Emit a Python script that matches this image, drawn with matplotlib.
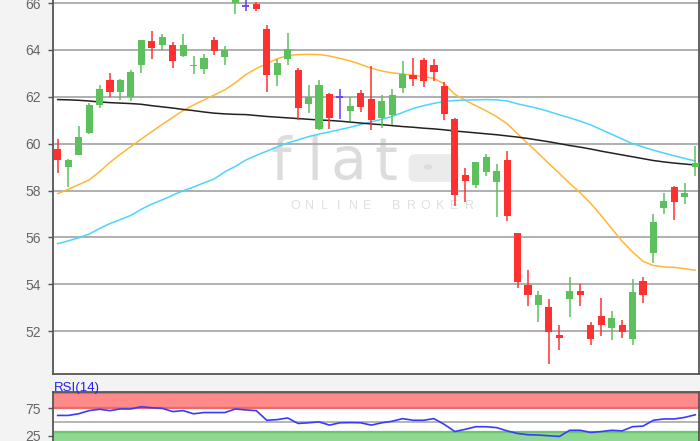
import matplotlib
matplotlib.use("Agg")
import matplotlib.pyplot as plt
from matplotlib.patches import FancyBboxPatch, Circle

# ---------------- data ----------------
opens = [59.79, 59.01, 59.52, 60.46, 61.66, 62.73, 62.20, 61.98, 63.37, 64.38,
         64.20, 64.23, 63.74, 63.31, 63.20, 64.44, 63.70, 66.00, 65.87, 65.98,
         64.91, 62.91, 63.63, 63.13, 61.70, 60.63, 62.13, 62.01, 61.41, 62.18,
         61.90, 61.10, 61.24, 62.37, 62.91, 63.58, 63.34, 62.48, 61.06, 58.66,
         58.23, 58.81, 58.37, 59.30, 56.18, 53.95, 53.11, 53.02, 51.85, 53.37,
         53.73, 52.24, 52.63, 52.13, 52.24, 51.66, 54.13, 55.32, 57.27, 58.13,
         57.73, 58.99]
highs = [60.20, 59.34, 60.74, 61.73, 62.51, 63.03, 62.78, 63.13, 64.44, 64.80,
         64.70, 64.34, 64.70, 63.73, 63.84, 64.55, 64.15, 66.50, 66.20, 66.05,
         65.08, 63.63, 64.74, 63.22, 62.51, 62.70, 62.15, 62.34, 61.98, 62.30,
         63.30, 62.06, 62.34, 63.51, 63.67, 63.65, 63.61, 62.63, 61.10, 58.94,
         59.23, 59.56, 59.13, 59.70, 56.20, 54.59, 53.73, 53.35, 52.25, 54.30,
         54.02, 52.39, 53.42, 52.85, 52.46, 54.23, 54.30, 57.01, 57.91, 58.20,
         58.34, 59.91]
lows = [58.73, 58.13, 59.50, 60.42, 61.53, 62.01, 61.87, 61.80, 63.03, 63.63,
        64.01, 63.24, 63.69, 62.99, 62.99, 63.77, 63.37, 65.52, 65.65, 65.65,
        62.20, 62.44, 63.34, 60.99, 61.30, 60.58, 60.63, 61.06, 60.95, 61.37,
        60.59, 60.66, 60.81, 62.15, 62.48, 62.41, 62.66, 60.99, 57.35, 57.49,
        58.09, 58.60, 56.87, 56.70, 53.85, 53.09, 52.38, 50.59, 51.21, 52.59,
        53.09, 51.42, 51.81, 51.64, 51.70, 51.42, 53.20, 54.92, 56.99, 56.73,
        57.42, 58.60]
closes = [59.30, 59.30, 60.30, 61.63, 62.34, 62.20, 62.73, 63.05, 64.44, 64.08,
          64.55, 63.51, 64.23, 63.35, 63.67, 63.94, 63.98, 66.30, 65.87, 65.74,
          62.91, 63.44, 64.06, 61.53, 61.98, 62.51, 61.10, 62.01, 61.60, 61.58,
          61.01, 61.84, 62.06, 62.98, 62.77, 62.66, 63.05, 61.27, 57.80, 58.42,
          59.23, 59.41, 58.84, 56.92, 54.09, 53.53, 53.52, 51.96, 51.70, 53.73,
          53.53, 51.67, 52.25, 52.56, 51.96, 53.67, 53.52, 56.67, 57.56, 57.49,
          57.91, 59.17]

ma_orange = [57.87, 58.05, 58.25, 58.45, 58.80, 59.20, 59.55, 59.87, 60.20, 60.51,
             60.82, 61.12, 61.41, 61.65, 61.87, 62.08, 62.30, 62.60, 62.95, 63.20,
             63.42, 63.62, 63.76, 63.80, 63.81, 63.80, 63.74, 63.64, 63.53, 63.38,
             63.22, 63.10, 63.02, 62.97, 62.92, 62.87, 62.78, 62.55, 62.10, 61.85,
             61.62, 61.40, 61.15, 60.85, 60.42, 60.00, 59.58, 59.15, 58.73, 58.30,
             57.90, 57.45, 56.93, 56.38, 55.84, 55.38, 54.98, 54.80, 54.74, 54.72,
             54.66, 54.60]
ma_cyan = [55.73, 55.85, 55.98, 56.14, 56.38, 56.59, 56.76, 56.94, 57.20, 57.42,
           57.60, 57.80, 57.99, 58.15, 58.33, 58.50, 58.80, 59.03, 59.30, 59.50,
           59.68, 59.86, 60.03, 60.16, 60.30, 60.41, 60.50, 60.60, 60.70, 60.82,
           60.93, 61.04, 61.16, 61.33, 61.50, 61.62, 61.72, 61.80, 61.84, 61.86,
           61.87, 61.88, 61.87, 61.82, 61.70, 61.60, 61.50, 61.37, 61.23, 61.10,
           60.96, 60.80, 60.60, 60.40, 60.20, 60.00, 59.86, 59.72, 59.60, 59.48,
           59.37, 59.26]
ma_black = [61.88, 61.87, 61.85, 61.82, 61.78, 61.75, 61.73, 61.71, 61.68, 61.62,
            61.57, 61.52, 61.46, 61.41, 61.35, 61.30, 61.27, 61.25, 61.24, 61.20,
            61.16, 61.13, 61.10, 61.07, 61.04, 61.01, 60.99, 60.96, 60.92, 60.88,
            60.84, 60.81, 60.77, 60.73, 60.70, 60.66, 60.63, 60.59, 60.54, 60.50,
            60.46, 60.42, 60.38, 60.33, 60.28, 60.22, 60.15, 60.08, 60.00, 59.92,
            59.85, 59.77, 59.68, 59.60, 59.52, 59.44, 59.36, 59.28, 59.22, 59.17,
            59.13, 59.09]
rsi = [62.0, 62.0, 65.0, 70.8, 73.2, 70.8, 73.8, 73.8, 77.8, 76.0,
       75.0, 69.0, 70.8, 65.0, 67.3, 67.3, 67.3, 73.8, 72.0, 70.8,
       53.2, 54.4, 57.4, 47.4, 48.6, 50.3, 44.4, 48.6, 49.0, 48.6,
       44.4, 48.6, 51.4, 56.2, 53.2, 53.2, 56.2, 45.6, 32.7, 36.8,
       41.5, 41.5, 39.8, 33.9, 29.2, 26.9, 26.3, 25.0, 23.8, 35.0,
       35.0, 31.0, 32.7, 35.0, 33.9, 41.5, 42.6, 53.2, 55.6, 55.6,
       58.5, 63.2]

price_ticks = [52, 54, 56, 58, 60, 62, 64, 66]
rsi_ticks = [25, 75]
rsi_label = "RSI(14)"

# ---------------- style ----------------
plt.rcParams['font.family'] = ['Liberation Sans', 'DejaVu Sans']
UP = '#5cc05c'
DOWN = '#ff3030'
DOJI = '#6a3cf0'
GRID = '#a9a9a9'
SPINE = '#555555'
TICKC = '#666666'

W, H = 700, 441
fig = plt.figure(figsize=(7.0, 4.41), dpi=100, facecolor='#f3f3f3')

def fx(px):
    return px / W

def fy(py):
    return 1 - py / H

ax = fig.add_axes([fx(53), fy(374), fx(699) - fx(53), fy(0) - fy(374)])
ax.set_facecolor('white')
n = len(opens)
xs = list(range(n))

# watermark
wm_col = '#dcdcdc'
for ch, px in zip("flat", [281, 315, 348, 386]):
    ax.text(fx(px), fy(163), ch, transform=fig.transFigure, fontsize=42,
            color=wm_col, ha='center', va='center',
            family='DejaVu Sans', zorder=0.5)
box = FancyBboxPatch((fx(410), fy(181)), fx(458) - fx(410), fy(155) - fy(181),
                     boxstyle="round,pad=0.002,rounding_size=0.012",
                     transform=fig.transFigure, facecolor='#ebebeb',
                     edgecolor='none', zorder=0.5)
ax.add_artist(box)
ax.add_artist(Circle((fx(428), fy(167)), 0.006, transform=fig.transFigure,
                     facecolor=wm_col, edgecolor='none', zorder=0.6))
for i, ch in enumerate("ONLINE BROKER"):
    ax.text(fx(295 + i * 14.5), fy(206), ch, transform=fig.transFigure,
            fontsize=9, color='#e0e0e0', ha='center', va='center',
            zorder=0.5)

# grid
for t in price_ticks:
    ax.axhline(t, color=GRID, lw=1.3, zorder=1)

# moving averages
ax.plot(xs, ma_orange, color='#ffb833', lw=1.1, zorder=2)
ax.plot(xs, ma_cyan, color='#4dd4ff', lw=1.1, zorder=2)
ax.plot(xs, ma_black, color='#222222', lw=1.1, zorder=2)

# candles
bw = 0.68
for i in xs:
    o, h, l, c = opens[i], highs[i], lows[i], closes[i]
    if c > o:
        col = UP
    elif c < o:
        col = DOWN
    else:
        col = DOJI
    ax.vlines(i, l, h, color=col, lw=1.1, zorder=3)
    if c == o:
        ax.hlines(o, i - bw / 2, i + bw / 2, color=col, lw=1.3, zorder=4)
    else:
        lo = min(o, c)
        ht = max(abs(c - o), 0.05)
        ax.bar(i, ht, bottom=lo, width=bw, color=col, linewidth=0, zorder=4)

ax.set_xlim(-0.45, 61.36)
ax.set_ylim(50.17, 66.13)
ax.set_xticks([])
ax.set_yticks(price_ticks)
ax.tick_params(axis='y', length=3.5, width=1, color=SPINE, pad=5,
               labelsize=10, labelcolor=TICKC)
for s in ['left', 'right', 'bottom']:
    ax.spines[s].set_color(SPINE)
    ax.spines[s].set_linewidth(1.3)
ax.spines['top'].set_visible(False)

# ---------------- RSI panel ----------------
rx = fig.add_axes([fx(53), fy(441), fx(699) - fx(53), fy(392.3) - fy(441)])
rx.set_facecolor('white')
rx.set_xlim(-0.45, 61.36)
rx.set_ylim(15.5, 104.1)
rx.axhspan(75, 110, facecolor='#ff8a8a', edgecolor='none', zorder=1)
rx.axhline(75, color='#e86a6a', lw=1.6, zorder=1.5)
rx.axhline(103.2, color='#e86a6a', lw=1.6, zorder=1.5)
rx.axhspan(0, 32.5, facecolor='#8fd88f', edgecolor='none', zorder=1)
rx.axhline(32.5, color='#6cc46c', lw=1.6, zorder=1.5)
rx.axhline(50, color=GRID, lw=1.2, zorder=1.5)
rx.plot(xs, rsi, color='#3a3aff', lw=1.2, zorder=3)
rx.set_xticks([])
rx.set_yticks(rsi_ticks)
rx.tick_params(axis='y', length=3.5, width=1, color=SPINE, pad=5,
               labelsize=10, labelcolor=TICKC)
for s in ['left', 'right', 'top']:
    rx.spines[s].set_color(SPINE)
    rx.spines[s].set_linewidth(1.3)
rx.spines['bottom'].set_visible(False)
fig.text(fx(53.5), fy(391), rsi_label, color='#2222ee', fontsize=9.5,
         ha='left', va='baseline')

fig.savefig('out.png', dpi=100, facecolor=fig.get_facecolor())
